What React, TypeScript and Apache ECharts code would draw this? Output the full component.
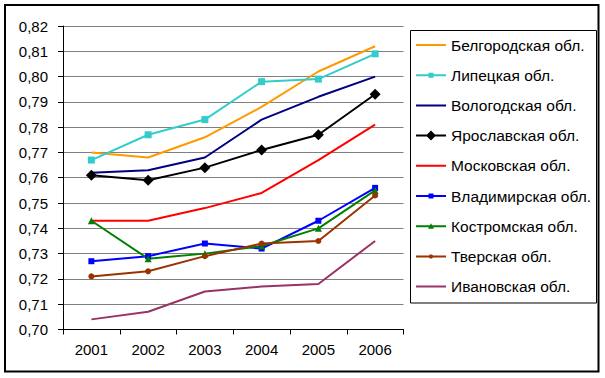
import React, { useEffect, useRef } from "react";
import * as echarts from "echarts";

const years = ["2001", "2002", "2003", "2004", "2005", "2006"];

const belgorod = [0.770, 0.768, 0.776, 0.788, 0.802, 0.812];
const lipetsk = [0.767, 0.777, 0.783, 0.798, 0.799, 0.809];
const vologda = [0.762, 0.763, 0.768, 0.783, 0.792, 0.800];
const yaroslavl = [0.761, 0.759, 0.764, 0.771, 0.777, 0.793];
const moscow = [0.743, 0.743, 0.748, 0.754, 0.767, 0.781];
const vladimir = [0.727, 0.729, 0.734, 0.732, 0.743, 0.756];
const kostroma = [0.743, 0.728, 0.730, 0.733, 0.740, 0.755];
const tver = [0.721, 0.723, 0.729, 0.734, 0.735, 0.753];
const ivanovo = [0.704, 0.707, 0.715, 0.717, 0.718, 0.735];

const seriesNames = [
  "Белгородская обл.",
  "Липецкая обл.",
  "Вологодская обл.",
  "Ярославская обл.",
  "Московская обл.",
  "Владимирская обл.",
  "Костромская обл.",
  "Тверская обл.",
  "Ивановская обл.",
];

const FONT = "Arial, 'Liberation Sans', sans-serif";

// legend icons: 30x16 box, line through the middle plus optional marker
const BOX = "M0,0h0.01v0.01h-0.01Z M29.99,15.99h0.01v0.01h-0.01Z ";
const LINE = "M0,7H30V9H0Z ";
const ICON_LINE = "path://" + BOX + LINE;
const ICON_SQUARE = "path://" + BOX + LINE + "M12.5,5.5H17.5V10.5H12.5Z";
const ICON_DIAMOND = "path://" + BOX + LINE + "M15,3L20,8L15,13L10,8Z";
const ICON_TRIANGLE = "path://" + BOX + LINE + "M15,5L18,10.5L12,10.5Z";
const ICON_DOT = "path://" + BOX + LINE + "M14,6H16L17,7V9L16,10H14L13,9V7Z";

export default function App() {
  const ref = useRef<HTMLDivElement>(null);
  useEffect(() => {
    document.body.style.margin = "0";
    const chart = echarts.init(ref.current!, null, { renderer: "svg" });
    const mk = (
      name: string,
      data: number[],
      color: string,
      symbol: string,
      symbolSize: number
    ) => ({
      name,
      type: "line",
      data,
      symbol,
      symbolSize,
      showSymbol: symbol !== "none",
      lineStyle: { color, width: 2 },
      itemStyle: { color, borderWidth: 0 },
      emphasis: { disabled: true },
    });
    const icons = [
      ICON_LINE,
      ICON_SQUARE,
      ICON_LINE,
      ICON_DIAMOND,
      ICON_LINE,
      ICON_SQUARE,
      ICON_TRIANGLE,
      ICON_DOT,
      ICON_LINE,
    ];
    chart.setOption({
      animation: false,
      backgroundColor: "#ffffff",
      textStyle: { fontFamily: FONT },
      grid: { left: 63, right: 201.5, top: 26, bottom: 48.5, containLabel: false },
      xAxis: {
        type: "category",
        data: years,
        boundaryGap: true,
        axisLine: { lineStyle: { color: "#000", width: 1 } },
        axisTick: { show: true, length: 5, lineStyle: { color: "#000" } },
        axisLabel: { color: "#000", fontSize: 15, margin: 12, fontFamily: FONT },
        splitLine: { show: false },
      },
      yAxis: {
        type: "value",
        min: 0.7,
        max: 0.82,
        interval: 0.01,
        axisLine: { show: true, lineStyle: { color: "#000", width: 1 } },
        axisTick: { show: true, length: 5, lineStyle: { color: "#000" } },
        axisLabel: {
          color: "#000",
          fontSize: 15,
          margin: 15,
          fontFamily: FONT,
          formatter: (v: number) => v.toFixed(2).replace(".", ","),
        },
        splitLine: { show: true, lineStyle: { color: "#808080", width: 1 } },
      },
      legend: {
        orient: "vertical",
        left: 416,
        top: 37,
        padding: 0,
        itemWidth: 30,
        itemHeight: 16,
        itemGap: 14.2,
        symbolKeepAspect: false,
        textStyle: { color: "#000", fontSize: 15.5, fontFamily: FONT },
        data: seriesNames.map((n, i) => ({ name: n, icon: icons[i] })),
      },
      graphic: [
        {
          type: "rect",
          shape: { x: 5, y: 5, width: 593.5, height: 366.5 },
          style: { fill: "none", stroke: "#000", lineWidth: 2 },
          silent: true,
        },
        {
          type: "rect",
          shape: { x: 410.5, y: 30.5, width: 186, height: 272.5 },
          style: { fill: "none", stroke: "#000", lineWidth: 1 },
          silent: true,
        },
      ],
      series: [
        mk(seriesNames[0], belgorod, "#FF9900", "none", 0),
        mk(seriesNames[1], lipetsk, "#33CCCC", "rect", 7),
        mk(seriesNames[2], vologda, "#000080", "none", 0),
        mk(seriesNames[3], yaroslavl, "#000000", "diamond", 11),
        mk(seriesNames[4], moscow, "#FF0000", "none", 0),
        mk(seriesNames[5], vladimir, "#0000FF", "rect", 6),
        mk(seriesNames[6], kostroma, "#008000", "triangle", 7),
        mk(seriesNames[7], tver, "#993300", "circle", 6),
        mk(seriesNames[8], ivanovo, "#993366", "none", 0),
      ],
    });
    return () => chart.dispose();
  }, []);
  return (
    <div
      ref={ref}
      style={{ width: 605, height: 378, position: "absolute", left: 0, top: 0 }}
    />
  );
}
